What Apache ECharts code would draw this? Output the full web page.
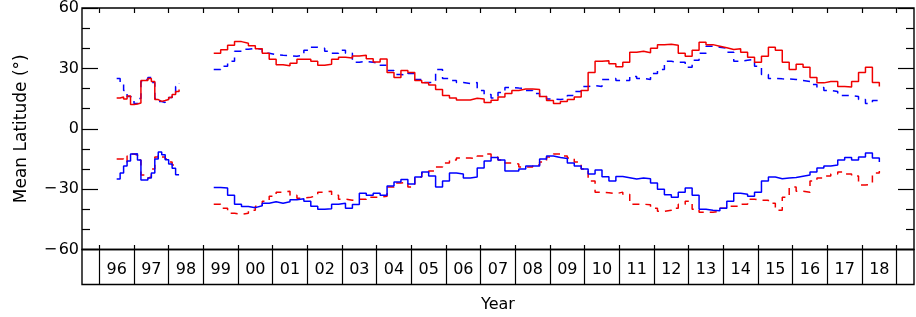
<!DOCTYPE html>
<html>
<head>
<meta charset="utf-8">
<script src="https://cdn.jsdelivr.net/npm/echarts@6/dist/echarts.min.js"></script>
<style>
  html, body { margin: 0; padding: 0; background: #fff; }
  #chart { width: 916px; height: 317px; }
</style>
</head>
<body>
<div id="chart"></div>
<script>
// first data stretch (1996.5 - 1998.3), values held until the next time
const timesA = [1996.5, 1996.6, 1996.7, 1996.8, 1996.9, 1997.0, 1997.1, 1997.2, 1997.3, 1997.4,
  1997.5, 1997.6, 1997.7, 1997.8, 1997.9, 1998.0, 1998.1, 1998.2, 1998.3]
const redNorthA = [15.3, 15.8, 14.8, 16.3, 12, 12.3, 12.8, 24, 24, 25, 23.5, 14.5, 13.6, 14, 14.5, 15.5, 17, 18.5, 19.5]
const blueNorthA = [25, 22.5, 19, 16, 15.5, 12.5, 15, 23.5, 24.5, 25.5, 23, 15, 13.5, 13, 14, 15.5, 17.5, 21, 22.5]
const blueSouthA = [-25, -22, -18.5, -16, -12.5, -12.4, -15.5, -25.5, -25.5, -24.5, -22, -15, -11.6, -12.9, -15.4, -17.5, -19.6, -22.9, -23]
const redSouthA = [-15, -15, -16.5, -13.5, -12.5, -13, -15.5, -23, -24.5, -24, -20, -14, -13, -14, -15, -16.5, -18, -18.5, -18.5]

// second data stretch (1999.3 - 2018.5)
const timesB = [
  1999.3, 1999.5, 1999.7, 1999.9, 2000.1, 2000.3, 2000.5, 2000.7, 2000.9, 2001.1,
  2001.3, 2001.5, 2001.7, 2001.9, 2002.1, 2002.3, 2002.5, 2002.7, 2002.9, 2003.1,
  2003.3, 2003.5, 2003.7, 2003.9, 2004.1, 2004.3, 2004.5, 2004.7, 2004.9, 2005.1,
  2005.3, 2005.5, 2005.7, 2005.9, 2006.1, 2006.3, 2006.5, 2006.7, 2006.9, 2007.1,
  2007.3, 2007.5, 2007.7, 2007.9, 2008.1, 2008.3, 2008.5, 2008.7, 2008.9, 2009.1,
  2009.3, 2009.5, 2009.7, 2009.9, 2010.1, 2010.3, 2010.5, 2010.7, 2010.9, 2011.1,
  2011.3, 2011.5, 2011.7, 2011.9, 2012.1, 2012.3, 2012.5, 2012.7, 2012.9, 2013.1,
  2013.3, 2013.5, 2013.7, 2013.9, 2014.1, 2014.3, 2014.5, 2014.7, 2014.9, 2015.1,
  2015.3, 2015.5, 2015.7, 2015.9, 2016.1, 2016.3, 2016.5, 2016.7, 2016.9, 2017.1,
  2017.3, 2017.5, 2017.7, 2017.9, 2018.1, 2018.3, 2018.5
]
const redNorthB = [
  37.5, 39.3, 41.5, 43.3, 42.5, 41.2, 39.8, 37.5, 34.5, 31.8,
  31.3, 32.5, 34.5, 34.5, 33.5, 31.5, 32, 34.5, 35.5, 35.2,
  36.2, 36.5, 34.8, 33.2, 34.7, 28, 25.5, 29, 28, 24,
  22.8, 21.8, 19.5, 16.5, 15.3, 14.3, 14.3, 15.2, 14.8, 13,
  14.2, 15.8, 17.5, 19, 19.8, 19.8, 19.5, 16, 14, 12.5,
  13.5, 14.5, 15.8, 19, 28, 33.5, 33.8, 32.3, 30.8, 33,
  38, 38.5, 37.8, 40, 41.8, 42, 41.5, 37.5, 36, 39,
  43, 41.8, 41, 40.2, 39.4, 39.8, 38, 35.5, 33, 36,
  40.5, 39, 33, 29.5, 32, 30.5, 25.5, 22.8, 23.5, 23.5,
  21, 20.8, 23.5, 28, 30.5, 23, 21
]
const blueNorthB = [
  29.4, 31, 33.5, 38.5, 39.5, 40, 39.5, 37.5, 36.8, 36.5,
  36.3, 36, 36.5, 39, 40.5, 40, 38.5, 37.5, 39, 37.5,
  33, 33.5, 33, 32.5, 31.5, 29, 27, 26.5, 27.5, 24.5,
  23, 23, 29.5, 25, 24, 23, 22.5, 23, 19, 17,
  15.3, 18, 20.5, 20.2, 20, 19, 17.5, 16, 14.8, 14.5,
  15, 16.5, 18.5, 21, 21.5, 21, 24.5, 25, 24, 24,
  26, 25, 24.5, 27.5, 29.5, 33.5, 33, 33, 30.5, 34,
  37.5, 41, 40.5, 40, 38, 33.5, 34, 34.5, 31, 27,
  25, 24.8, 24.7, 24.5, 24, 23.5, 22, 20.5, 19, 18.5,
  16.5, 16.5, 16, 14.5, 12.5, 14, 16
]
const blueSouthB = [
  -29.2, -29.5, -33, -37.5, -38.6, -39.2, -38.3, -37, -36.3, -37,
  -36.3, -35.3, -34.8, -36, -38.5, -40, -39.8, -37.5, -37, -39.5,
  -37.6, -32, -33, -32, -33, -28.5, -26.5, -25.2, -27.5, -24,
  -21.5, -23.5, -29, -26, -22, -22.5, -24.5, -24, -19.5, -16,
  -14.3, -15.5, -21, -21, -20, -18.5, -18.5, -15, -13.5, -14.3,
  -14.8, -17, -18.5, -20, -22.5, -20.5, -23.8, -26, -23.7, -24.3,
  -25, -24.5, -24.8, -27, -30, -32.8, -34, -31.5, -29.5, -33,
  -40, -40.5, -40.8, -39.5, -36, -32, -32.5, -33.5, -31.5, -26,
  -24, -24.8, -24.5, -24.2, -23.6, -23, -21.5, -19.5, -18.5, -18,
  -15.5, -14.3, -15.5, -14, -12, -14.5, -16.5
]
const redSouthB = [
  -37.5, -39.5, -42, -42.5, -42, -40.5, -38.5, -36, -33.5, -31.5,
  -31, -33, -34.5, -34, -33.2, -31.5, -31, -33, -35, -35.5,
  -35, -35, -34, -34, -33.5, -29, -27, -26.5, -29, -24,
  -22, -21, -19, -17, -15.5, -14.5, -14.5, -14.8, -13.5, -12.5,
  -14, -15.5, -17, -17.5, -19, -19, -18, -16.5, -14, -12.5,
  -13.5, -14.5, -16.5, -20, -26, -31.5, -31.8, -32.3, -31.5, -32.5,
  -37.5, -37.5, -37.8, -39.5, -41, -40.5, -39.5, -37.5, -36, -40,
  -41.5, -41.5, -41, -39.5, -38.5, -38.5, -37.5, -35, -35.5, -35.5,
  -37, -40.5, -34, -29, -31, -31.5, -26, -24.5, -23.5, -22.5,
  -21.5, -22.5, -23.5, -28, -27.5, -22, -21
]

// year boxes along the bottom
const yearBounds = [1996, 1997, 1998, 1999, 2000, 2001, 2002, 2003, 2004, 2005, 2006, 2007,
  2008, 2009, 2010, 2011, 2012, 2013, 2014, 2015, 2016, 2017, 2018, 2019]
const yearLabels = ['96', '97', '98', '99', '00', '01', '02', '03', '04', '05', '06', '07',
  '08', '09', '10', '11', '12', '13', '14', '15', '16', '17', '18']

const FONT = 'DejaVu Sans'
const INK = '#000'
const RED = '#f00000'
const BLUE = '#0000ff'

function joinData(valsA, valsB) {
  const data = timesA.map((t, i) => [t, valsA[i]])
  // break the line between the two stretches
  data.push([timesA[timesA.length - 1], null])
  timesB.forEach((t, i) => data.push([t, valsB[i]]))
  return data
}

function stepSeries(name, color, dashed, valsA, valsB) {
  return {
    name: name,
    type: 'line',
    step: 'end',
    xAxisIndex: 0,
    yAxisIndex: 0,
    showSymbol: false,
    symbol: 'none',
    connectNulls: false,
    animation: false,
    lineStyle: {
      color: color,
      width: 1.5,
      type: dashed ? [7, 6] : 'solid'
    },
    data: joinData(valsA, valsB)
  }
}

const chart = echarts.init(document.getElementById('chart'))
const tickStyle = { color: INK, width: 1.2 }
const yearCenters = yearLabels.map((l, i) => yearBounds[i] + 0.5)

const option = {
  animation: false,
  grid: [
    { left: 82, top: 8, width: 832, height: 241.5, show: true, borderColor: INK, borderWidth: 1.4 },
    { left: 82, top: 249.5, width: 832, height: 35, show: true, borderColor: INK, borderWidth: 1.4 }
  ],
  xAxis: [
    {
      gridIndex: 0, type: 'value', min: 1995.5, max: 2019.5, position: 'bottom',
      axisLine: { show: false, onZero: false },
      axisTick: { inside: true, length: 4.5, customValues: yearBounds, lineStyle: tickStyle },
      axisLabel: { show: false },
      splitLine: { show: false }
    },
    {
      gridIndex: 0, type: 'value', min: 1995.5, max: 2019.5, position: 'top',
      axisLine: { show: false, onZero: false },
      axisTick: { inside: true, length: 5, customValues: yearBounds, lineStyle: tickStyle },
      axisLabel: { show: false },
      splitLine: { show: false }
    },
    {
      gridIndex: 1, type: 'value', min: 1995.5, max: 2019.5, position: 'bottom',
      axisLine: { show: false, onZero: false },
      axisTick: { show: false, customValues: yearBounds },
      axisLabel: {
        inside: true,
        margin: 7,
        customValues: yearCenters,
        formatter: (v) => yearLabels[Math.round(v - 1996.5)],
        color: INK, fontFamily: FONT, fontSize: 16
      },
      splitLine: { show: true, lineStyle: tickStyle },
      name: 'Year',
      nameLocation: 'middle',
      nameGap: 12,
      nameTextStyle: { color: INK, fontFamily: FONT, fontSize: 16 }
    }
  ],
  yAxis: [
    {
      gridIndex: 0, type: 'value', min: -60, max: 60, interval: 30, position: 'left',
      axisLine: { show: false, onZero: false },
      axisTick: { inside: true, length: 16, lineStyle: tickStyle },
      minorTick: { show: true, splitNumber: 3, length: 8, lineStyle: tickStyle },
      axisLabel: {
        margin: 3,
        color: INK, fontFamily: FONT, fontSize: 16,
        formatter: (v) => (v < 0 ? '\u2212\u200a' + Math.abs(v) : String(v))
      },
      splitLine: { show: false },
      name: 'Mean Latitude (°)',
      nameLocation: 'middle',
      nameGap: 52,
      nameTextStyle: { color: INK, fontFamily: FONT, fontSize: 17 }
    },
    {
      gridIndex: 0, type: 'value', min: -60, max: 60, interval: 30, position: 'right',
      axisLine: { show: false, onZero: false },
      axisTick: { inside: true, length: 16, lineStyle: tickStyle },
      minorTick: { show: true, splitNumber: 3, length: 8, lineStyle: tickStyle },
      axisLabel: { show: false },
      splitLine: { show: false }
    },
    {
      gridIndex: 1, type: 'value', min: 0, max: 1, show: false
    }
  ],
  series: [
    stepSeries('north dashed', BLUE, true, blueNorthA, blueNorthB),
    stepSeries('south dashed', RED, true, redSouthA, redSouthB),
    stepSeries('north solid', RED, false, redNorthA, redNorthB),
    stepSeries('south solid', BLUE, false, blueSouthA, blueSouthB)
  ]
}

chart.setOption(option)
</script>
</body>
</html>
